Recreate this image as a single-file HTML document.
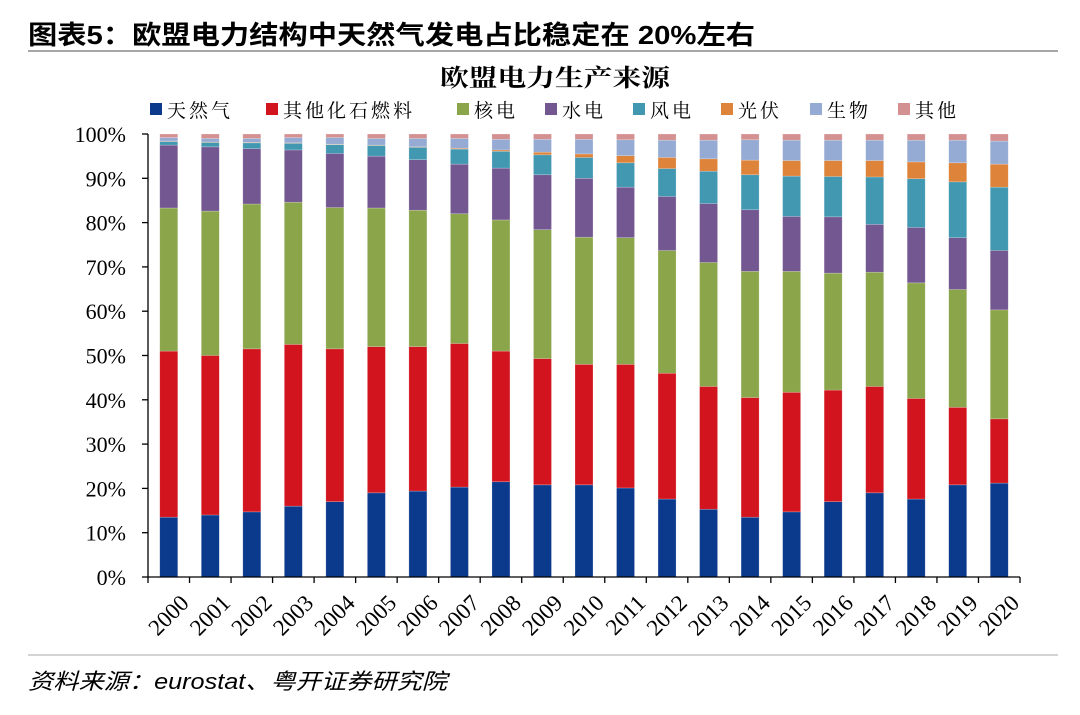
<!DOCTYPE html>
<html><head><meta charset="utf-8"><style>
body{margin:0;background:#fff;}
#wrap{position:relative;width:1080px;height:715px;overflow:hidden;font-family:"Liberation Sans","Noto Sans CJK SC",sans-serif;}
</style></head><body>
<div id="wrap">
<svg id="svg" width="1080" height="715" xmlns="http://www.w3.org/2000/svg">
<text x="28" y="44" font-size="26" font-weight="bold" textLength="727" lengthAdjust="spacingAndGlyphs" font-family="Liberation Sans,Noto Sans CJK SC,sans-serif" fill="#000">图表5：欧盟电力结构中天然气发电占比稳定在 20%左右</text>
<line x1="28" y1="51" x2="1058" y2="51" stroke="#888" stroke-width="1.5"/>
<text x="440" y="86" font-size="24" font-weight="bold" textLength="230" lengthAdjust="spacingAndGlyphs" font-family="Noto Serif CJK SC,serif">欧盟电力生产来源</text>
<g id="legend"></g>
<g id="plot"></g>
<line x1="28" y1="655" x2="1058" y2="655" stroke="#aaa" stroke-width="1"/>
<text x="28" y="689" font-size="22" font-style="italic" textLength="419" lengthAdjust="spacingAndGlyphs" font-family="Liberation Sans,Noto Sans CJK SC,sans-serif">资料来源：eurostat、粤开证券研究院</text>
</svg>
</div>
<script>
const years=["2000","2001","2002","2003","2004","2005","2006","2007","2008","2009","2010","2011","2012","2013","2014","2015","2016","2017","2018","2019","2020"];
const seriesNames=["天然气","其他化石燃料","核电","水电","风电","光伏","生物","其他"];
const gas=[13.5,14,14.7,16,17,19,19.4,20.3,21.5,20.8,20.8,20.1,17.6,15.3,13.5,14.7,17,19,17.6,20.8,21.2];
const fossil=[37.5,36,36.8,36.5,34.5,33,32.6,32.4,29.5,28.5,27.2,27.9,28.4,27.7,27,27,25.2,24,22.7,17.5,14.5];
const nuclear=[32.3,32.6,32.7,32.1,31.9,31.3,30.8,29.3,29.6,29.1,28.7,28.6,27.7,28,28.5,27.3,26.4,25.8,26.1,26.6,24.6];
const hydro=[14.2,14.5,12.5,11.8,12.2,11.7,11.4,11.2,11.7,12.4,13.3,11.4,12.2,13.3,13.9,12.4,12.7,10.8,12.5,11.7,13.4];
const wind=[0.8,1.0,1.3,1.5,2.0,2.4,2.8,3.4,3.8,4.5,4.7,5.5,6.3,7.3,7.9,9.1,9.1,10.7,11,12.6,14.3];
const solar=[0.1,0.1,0.1,0.1,0.1,0.1,0.1,0.2,0.3,0.6,0.8,1.6,2.5,2.8,3.3,3.5,3.6,3.7,3.8,4.3,5.2];
const bio=[0.8,0.8,0.9,1.2,1.5,1.5,1.9,2.2,2.4,2.9,3.3,3.6,3.9,4.2,4.6,4.6,4.6,4.6,4.9,5.1,5.2];
const other=[0.8,1.0,1.0,0.8,0.8,1.0,1.0,1.0,1.2,1.2,1.2,1.3,1.4,1.4,1.3,1.4,1.4,1.4,1.4,1.4,1.6];
const yTicks=["0%","10%","20%","30%","40%","50%","60%","70%","80%","90%","100%"];
const series=[gas,fossil,nuclear,hydro,wind,solar,bio,other];
const colors=["#0b3a8c","#d2141e","#8ba54a","#735791","#4298b1","#dd833a","#96abd3","#d49191"];
const keys=["gas","fossil","nuclear","hydro","wind","solar","biomass","other"];
const NS="http://www.w3.org/2000/svg";
const X0=148,X1=1020,Y0=577,Y1=134;
const step=(X1-X0)/years.length;
const xc=i=>X0+step*(i+0.5);
const yv=v=>Y0-(Y0-Y1)*v/100;
function mk(t,a,p){const e=document.createElementNS(NS,t);for(const k in a)e.setAttribute(k,a[k]);p.appendChild(e);return e;}
const plot=document.getElementById('plot');
years.forEach((yr,i)=>{let c=0;series.forEach((s,j)=>{const v=s[i];
const r=mk('rect',{x:xc(i)-9,y:yv(c+v),width:18,height:yv(c)-yv(c+v),fill:colors[j],stroke:"#fff","stroke-opacity":0.35,"stroke-width":0.6},plot);


c+=v;});
const t=mk('text',{transform:`translate(${xc(i)+10},${Y0+16}) rotate(-45)`,"text-anchor":"end","font-size":23,"font-family":"Liberation Serif,serif",dy:"0.7em"},plot);
t.textContent=yr;


});
const ax=mk('path',{d:`M${X0},${Y1}V${Y0}H${X1}`,stroke:"#000","stroke-width":1.3,fill:"none"},plot);


yTicks.forEach((lab,k)=>{const y=yv(k*10);
const tk=mk('line',{x1:X0-6,x2:X0,y1:y,y2:y,stroke:"#000","stroke-width":1.3},plot);


const t=mk('text',{x:X0-22,y:y+8,"text-anchor":"end","font-size":22,"font-family":"Liberation Serif,serif"},plot);
t.textContent=lab;


});
for(let i=0;i<=years.length;i++){const x=X0+step*i;
const tk=mk('line',{x1:x,x2:x,y1:Y0,y2:Y0+6,stroke:"#000","stroke-width":1.3},plot);

}
const lg=document.getElementById('legend');
const lx=[150,266,457,545,633,721,810,898];
seriesNames.forEach((n,j)=>{const g=mk('g',{},lg);


mk('rect',{x:lx[j],y:103,width:12,height:12,fill:colors[j]},g);
const t=mk('text',{x:lx[j]+17,y:117,"font-size":19,"font-family":"Noto Serif CJK SC,serif","letter-spacing":"3"},g);
t.textContent=n;});
</script>
</body></html>
